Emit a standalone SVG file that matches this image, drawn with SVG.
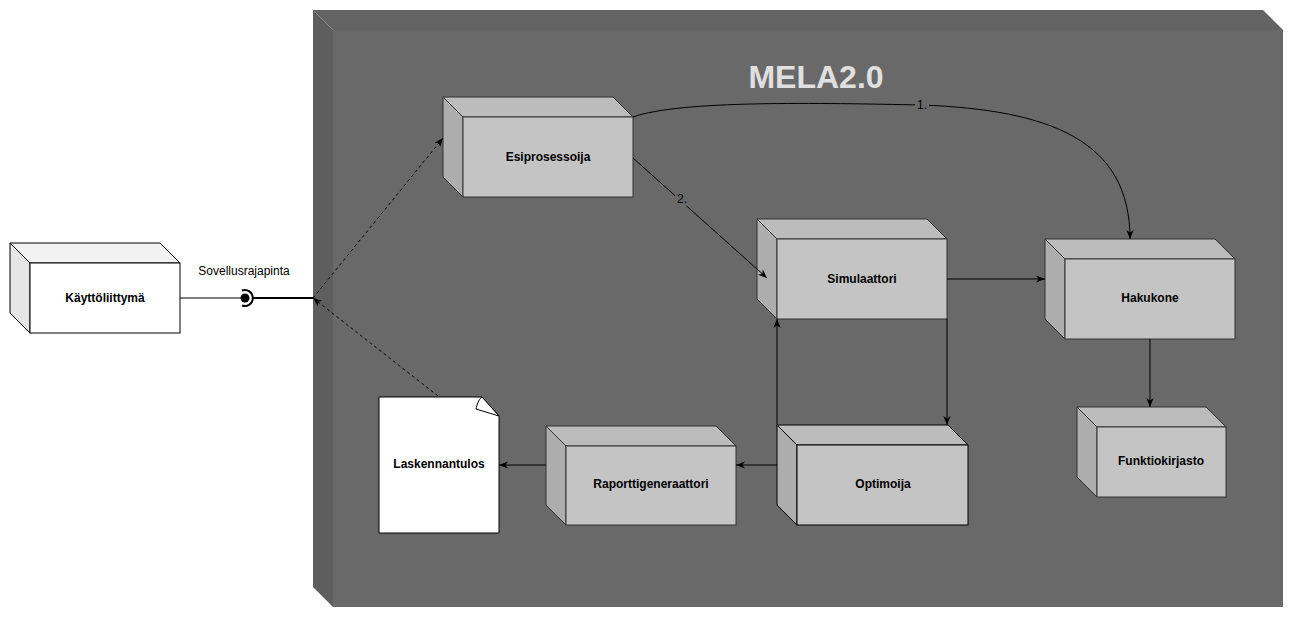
<svg xmlns="http://www.w3.org/2000/svg" width="1294" height="618" viewBox="0 0 1294 618">
<defs>
<style>
.front{fill:#c4c4c4;stroke:#333;stroke-width:1}
.top{fill:#bcbcbc;stroke:#333;stroke-width:1}
.side{fill:#adadad;stroke:#333;stroke-width:1}
.lbl{font-family:"Liberation Sans",Arial,sans-serif;font-size:12px;font-weight:bold;fill:#000;text-anchor:middle}
.small{font-family:"Liberation Sans",Arial,sans-serif;font-size:12px;fill:#000;text-anchor:middle}
.edge{fill:none;stroke:#000;stroke-width:1}
.dash{fill:none;stroke:#000;stroke-width:1;stroke-dasharray:3 3}
</style>
<marker id="arr" viewBox="0 0 10 10" refX="10" refY="5" markerWidth="9" markerHeight="9" markerUnits="userSpaceOnUse" orient="auto">
<path d="M0,1 L10,5 L0,9 L3,5 z" fill="#000"/>
</marker>
</defs>
<rect width="1294" height="618" fill="#fff"/>

<g id="mela">
<polygon points="313,10 1263,10 1283,30 333,30" fill="#636363"/>
<polygon points="313,10 333,30 333,607 313,587" fill="#5e5e5e"/>
<rect x="333" y="30" width="950" height="577" fill="#696969"/>
<text x="816" y="88" font-family="Liberation Sans,Arial,sans-serif" font-size="32" font-weight="bold" fill="#e0e0e0" text-anchor="middle">MELA2.0</text>
</g>

<g id="kayttoliittyma">
<polygon points="10,243 160,243 180,263 30,263" fill="#f2f2f2" stroke="#000"/>
<polygon points="10,243 30,263 30,333 10,313" fill="#e6e6e6" stroke="#000"/>
<rect x="30" y="263" width="150" height="70" fill="#fff" stroke="#000"/>
<text class="lbl" x="105" y="302">Käyttöliittymä</text>
</g>

<g id="rajapinta">
<line x1="180" y1="298" x2="241" y2="298" stroke="#000" stroke-width="1"/>
<circle cx="245" cy="298" r="4.5" fill="#000"/>
<path d="M242,290.5 A8,8 0 1 1 242,305.5" fill="none" stroke="#000" stroke-width="2"/>
<line x1="253" y1="298" x2="313" y2="298" stroke="#000" stroke-width="2"/>
<text class="small" x="244" y="275">Sovellusrajapinta</text>
</g>

<g id="esiprosessoija">
<polygon class="top" points="443,97 613,97 633,117 463,117"/>
<polygon class="side" points="443,97 463,117 463,197 443,177"/>
<rect class="front" x="463" y="117" width="170" height="80"/>
<text class="lbl" x="548" y="161">Esiprosessoija</text>
</g>

<g id="simulaattori">
<polygon class="top" points="757,219 927,219 947,239 777,239"/>
<polygon class="side" points="757,219 777,239 777,319 757,299"/>
<rect class="front" x="777" y="239" width="170" height="80"/>
<text class="lbl" x="862" y="283">Simulaattori</text>
</g>

<g id="hakukone">
<polygon class="top" points="1045,239 1215,239 1235,259 1065,259"/>
<polygon class="side" points="1045,239 1065,259 1065,339 1045,319"/>
<rect class="front" x="1065" y="259" width="170" height="80"/>
<text class="lbl" x="1150" y="302">Hakukone</text>
</g>

<g id="funktiokirjasto">
<polygon class="top" points="1077,407 1206,407 1226,427 1097,427"/>
<polygon class="side" points="1077,407 1097,427 1097,497 1077,477"/>
<rect class="front" x="1097" y="427" width="129" height="70"/>
<text class="lbl" x="1161" y="465">Funktiokirjasto</text>
</g>

<g id="optimoija">
<polygon class="top" points="777,425 948,425 968,445 797,445" style="stroke:#000"/>
<polygon class="side" points="777,425 797,445 797,525 777,505" style="stroke:#000"/>
<rect class="front" x="797" y="445" width="171" height="80" style="stroke:#000"/>
<text class="lbl" x="883" y="488">Optimoija</text>
</g>

<g id="raporttigeneraattori">
<polygon class="top" points="546,426 716,426 736,446 566,446"/>
<polygon class="side" points="546,426 566,446 566,525 546,505"/>
<rect class="front" x="566" y="446" width="170" height="79"/>
<text class="lbl" x="651" y="488">Raporttigeneraattori</text>
</g>

<g id="laskennantulos">
<path d="M379,397 H482 L499,416 V533 H379 Z" fill="#fff" stroke="#000"/>
<path d="M482,397 C478,400 477,405 476,409 L499,416 C493,410 488,403 482,397 Z" fill="#fff" stroke="#000"/>
<text class="lbl" x="439" y="468">Laskennantulos</text>
</g>

<g id="connectors">
<path class="dash" d="M313,298 L443,138" marker-end="url(#arr)"/>
<path class="dash" d="M438,396 L313,298" marker-end="url(#arr)"/>
<path class="edge" d="M633,117 C680,100 820,103 922,105 C1050,110 1130,140 1130,239" marker-end="url(#arr)"/>
<rect x="915" y="98" width="14" height="14" fill="#696969"/>
<text class="small" x="922" y="109" fill="#1a1a2e">1.</text>
<path class="edge" d="M633,158 L767,278" marker-end="url(#arr)"/>
<rect x="675" y="192" width="14" height="14" fill="#696969"/>
<text class="small" x="682" y="203">2.</text>
<path class="edge" d="M947,279 L1045,279" marker-end="url(#arr)"/>
<path class="edge" d="M1150,339 L1150,407" marker-end="url(#arr)"/>
<path class="edge" d="M947,319 L947,425" marker-end="url(#arr)"/>
<path class="edge" d="M777,425 L777,319" marker-end="url(#arr)"/>
<path class="edge" d="M777,465 L736,465" marker-end="url(#arr)"/>
<path class="edge" d="M546,465 L499,465" marker-end="url(#arr)"/>
</g>
</svg>
